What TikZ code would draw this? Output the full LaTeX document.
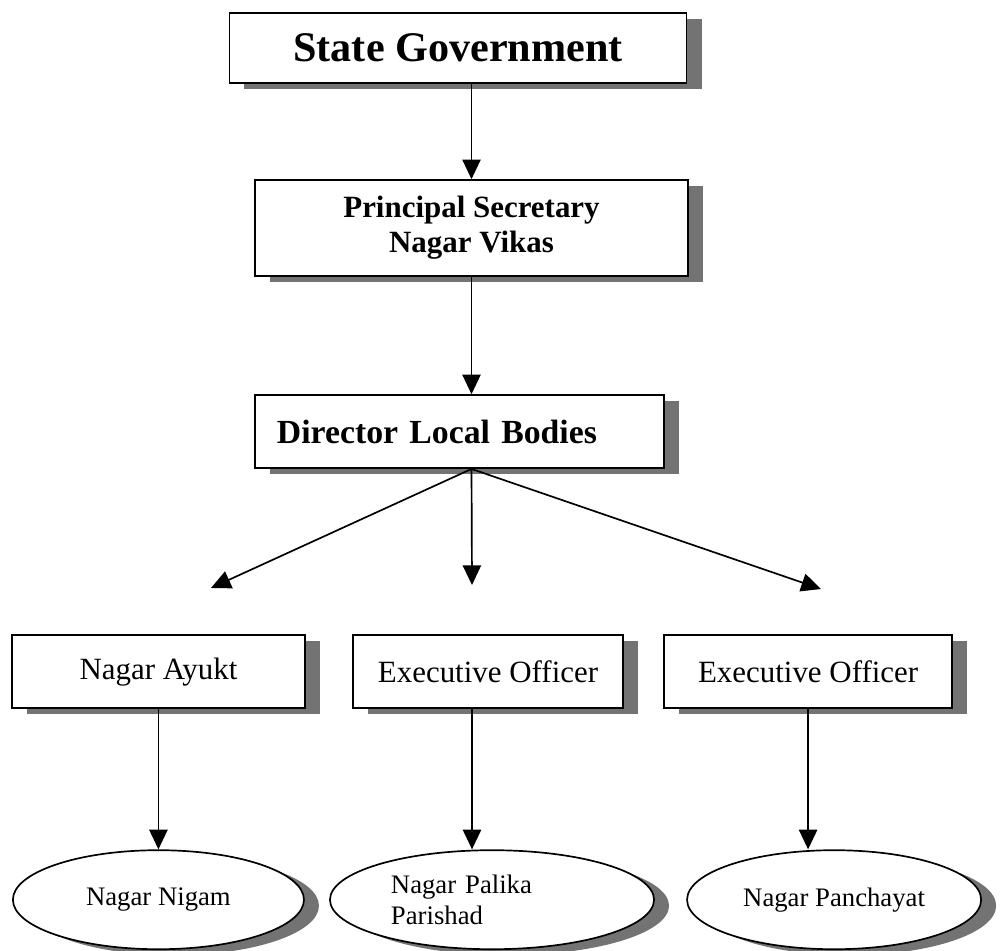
\documentclass[tikz,border=0pt]{standalone}
\usepackage{fontspec}
\setmainfont{Liberation Serif}
\usetikzlibrary{shapes.geometric,shadows,arrows.meta}

\begin{document}
\begin{tikzpicture}[x=0.025cm, y=-0.025cm,
  box/.style={rectangle, draw, line width=1.2pt, fill=white,
    drop shadow={shadow xshift=0.375cm, shadow yshift=-0.15cm, fill=black!55, opacity=1}},
  oval/.style={ellipse, draw, line width=1.2pt, fill=white, inner sep=1pt, minimum height=2.475cm,
    font=\fontsize{19}{22}\selectfont,
    drop shadow={shadow xshift=0.375cm, shadow yshift=-0.15cm, fill=black!55, opacity=1}},
  arr/.style={line width=1.2pt, -{Triangle[length=14pt, width=13pt]}}]
  \useasboundingbox (0,0) rectangle (1005,951);
  \node (state) [box, minimum width=11.425cm, minimum height=1.75cm, font=\fontsize{30}{34}\selectfont\bfseries] at (458,48) {State Government};
  \node (prin) [box, below of=state, xshift=0.3375cm, yshift=-3.5cm, minimum width=10.825cm, minimum height=2.4cm, align=center, font=\fontsize{22}{25}\selectfont\bfseries] {Principal Secretary\\Nagar Vikas};
  \node (dir) [box, below of=prin, xshift=-0.3cm, yshift=-4.0875cm, text width=9.125cm, inner xsep=0.55cm, minimum height=1.825cm, align=left, font=\fontsize{24}{28}\selectfont\bfseries] {Director Local Bodies};
  \node (exec1) [box, below of=dir, xshift=0.7125cm, yshift=-5cm, minimum width=6.75cm, minimum height=1.825cm, font=\fontsize{22}{26}\selectfont] {Executive Officer};
  \node (ayukt) [box, left of=exec1, xshift=-7.2375cm, minimum width=7.325cm, minimum height=1.825cm, font=\fontsize{22}{26}\selectfont] {Nagar Ayukt};
  \node (exec2) [box, right of=exec1, xshift=7cm, minimum width=7.2cm, minimum height=1.825cm, font=\fontsize{22}{26}\selectfont] {Executive Officer};
  \node (nigam) [oval, below of=ayukt, yshift=-4.7cm, minimum width=7.275cm] {Nagar Nigam};
  \node (parishad) [oval, below of=exec1, xshift=0.1cm, yshift=-4.7cm, minimum width=8.1cm, text width=5.05cm, align=left] {Nagar Palika\\Parishad};
  \node (panch) [oval, below of=exec2, xshift=0.65cm, yshift=-4.7cm, minimum width=7.35cm] {Nagar Panchayat};
  \coordinate (tipA) at (211,588);
  \coordinate (tipB) at (472,585);
  \coordinate (tipC) at (821,589);
  \draw[arr] (prin.north |- state.south) -- (prin.north);
  \draw[arr] (prin.south) -- (prin.south |- dir.north);
  \draw[arr] (prin.south |- dir.south) -- (tipA);
  \draw[arr] (prin.south |- dir.south) -- (tipB);
  \draw[arr] (prin.south |- dir.south) -- (tipC);
  \draw[arr] (ayukt.south) -- (nigam.north);
  \draw[arr] (tipB |- exec1.south) -- (tipB |- parishad.north);
  \draw[arr] (exec2.south) -- (exec2.south |- panch.north);
\end{tikzpicture}
\end{document}
